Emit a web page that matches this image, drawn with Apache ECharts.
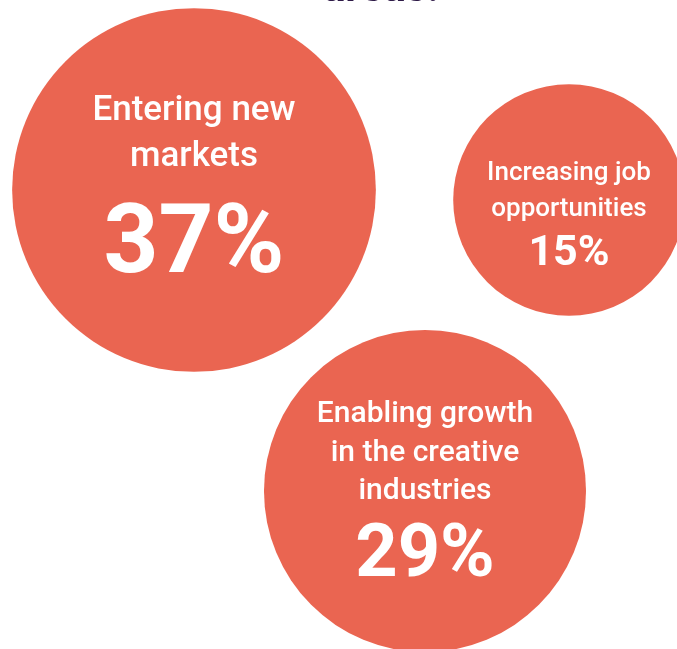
<!DOCTYPE html>
<html>
<head>
<meta charset="utf-8">
<script src="https://cdn.jsdelivr.net/npm/echarts@6/dist/echarts.min.js"></script>
<style>
  html, body { margin: 0; padding: 0; background: #ffffff; }
  #chart { width: 677px; height: 649px; }
</style>
</head>
<body>
<div id="chart"></div>
<script>
// Share of respondents naming each benefit area
const categories = ['Entering new\nmarkets', 'Increasing job\nopportunities', 'Enabling growth\nin the creative\nindustries'];
const values = [37, 15, 29];
// Bubble centres on a 677 x 649 layout plane
const centreX = [194, 569, 425];
const centreY = [190, 200, 491];

const BUBBLE = '#EA6551';
const FONT = 'Roboto, "Noto Sans", sans-serif';
// bubble area grows with the value
const sizeOf = v => 59.8 * Math.sqrt(v);

// text sizes per bubble: [name size, name line height, value size, value line height, vertical offset]
const textStyles = [
  [35, 46, 96, 136, 12],
  [26, 36, 43, 54, 18],
  [30, 38.5, 74, 94, 9]
];

const data = values.map((v, i) => {
  const t = textStyles[i];
  return {
    value: [centreX[i], centreY[i], v],
    name: categories[i],
    label: {
      offset: [0, t[4]],
      rich: {
        n: { fontSize: t[0], lineHeight: t[1], color: '#fff', fontWeight: 500, fontFamily: FONT, align: 'center' },
        v: { fontSize: t[2], lineHeight: t[3], color: '#fff', fontWeight: 'bold', fontFamily: FONT, align: 'center' }
      }
    }
  };
});

const chart = echarts.init(document.getElementById('chart'), null, { renderer: 'canvas' });
chart.setOption({
  animation: false,
  backgroundColor: '#ffffff',
  grid: { left: 0, right: 0, top: 0, bottom: 0 },
  xAxis: { type: 'value', min: 0, max: 677, show: false },
  yAxis: { type: 'value', min: 0, max: 649, inverse: true, show: false },
  graphic: [{
    type: 'text',
    style: {
      text: 'areas.',
      x: 381, y: 11,
      align: 'center',
      verticalAlign: 'bottom',
      fill: '#2E1A47',
      font: 'bold 42px ' + FONT
    }
  }],
  series: [{
    type: 'scatter',
    clip: false,
    symbol: 'circle',
    symbolSize: d => sizeOf(d[2]),
    itemStyle: { color: BUBBLE, opacity: 1 },
    label: {
      show: true,
      position: 'inside',
      formatter: p => p.name.split('\n').map(l => '{n|' + l + '}').join('\n') + '\n{v|' + p.value[2] + '%}'
    },
    emphasis: { disabled: true },
    data: data
  }]
});
</script>
</body>
</html>
